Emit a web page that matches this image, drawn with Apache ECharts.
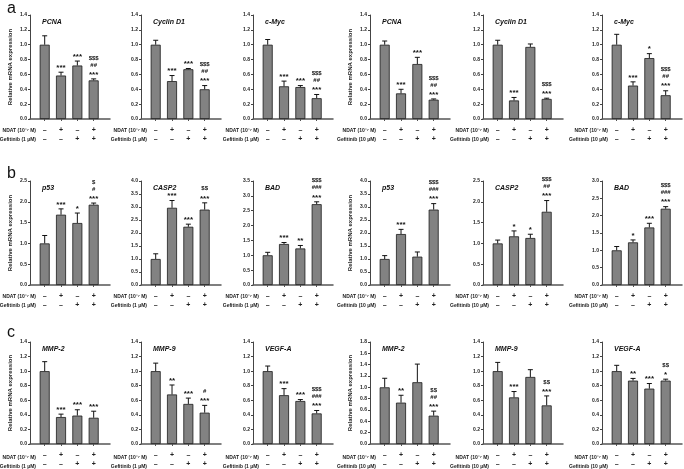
<!DOCTYPE html>
<html><head><meta charset="utf-8">
<script src="https://cdn.jsdelivr.net/npm/echarts@6/dist/echarts.min.js"></script>
<style>html,body{margin:0;padding:0;background:#fff}#c{width:684px;height:469px}</style>
</head><body><div id="c"></div>
<script>
// ---------- data ----------
const panelLetters = ['a', 'b', 'c'];
const genesA = ['PCNA', 'Cyclin D1', 'c-Myc', 'PCNA', 'Cyclin D1', 'c-Myc'];
const genesB = ['p53', 'CASP2', 'BAD', 'p53', 'CASP2', 'BAD'];
const genesC = ['MMP-2', 'MMP-9', 'VEGF-A', 'MMP-2', 'MMP-9', 'VEGF-A'];
const gefDoses = ['1 µM', '1 µM', '1 µM', '10 µM', '10 µM', '10 µM'];
const ndatSigns = ['–', '+', '–', '+'];
const gefSigns = ['–', '–', '+', '+'];

const yMaxA = [1.4, 1.4, 1.4, 1.4, 1.4, 1.4];
const yStepA = [0.2, 0.2, 0.2, 0.2, 0.2, 0.2];
const yMaxB = [2.5, 4.0, 3.5, 4.0, 2.5, 3.0];
const yStepB = [0.5, 0.5, 0.5, 0.5, 0.5, 0.5];
const yMaxC = [1.4, 1.4, 1.4, 1.8, 1.4, 1.4];
const yStepC = [0.2, 0.2, 0.2, 0.2, 0.2, 0.2];

const meansA = [
  [1.0, 0.585, 0.72, 0.52],
  [1.0, 0.51, 0.67, 0.40],
  [1.0, 0.44, 0.43, 0.28],
  [1.0, 0.345, 0.74, 0.26],
  [1.0, 0.25, 0.97, 0.27],
  [1.0, 0.45, 0.82, 0.32]
];
const errA = [
  [0.12, 0.045, 0.06, 0.02],
  [0.06, 0.075, 0.01, 0.05],
  [0.07, 0.07, 0.02, 0.05],
  [0.05, 0.055, 0.09, 0.01],
  [0.06, 0.04, 0.04, 0.01],
  [0.14, 0.05, 0.06, 0.06]
];
const meansB = [
  [1.0, 1.69, 1.49, 1.93],
  [1.0, 2.97, 2.24, 2.90],
  [1.0, 1.38, 1.23, 2.72],
  [1.0, 1.96, 1.09, 2.90],
  [1.0, 1.17, 1.13, 1.76],
  [1.0, 1.23, 1.66, 2.20]
];
const errB = [
  [0.19, 0.14, 0.24, 0.04],
  [0.20, 0.28, 0.10, 0.26],
  [0.10, 0.05, 0.10, 0.08],
  [0.13, 0.18, 0.18, 0.23],
  [0.08, 0.13, 0.09, 0.27],
  [0.11, 0.07, 0.12, 0.06]
];
const meansC = [
  [1.0, 0.37, 0.39, 0.36],
  [1.0, 0.68, 0.55, 0.43],
  [1.0, 0.67, 0.59, 0.42],
  [1.0, 0.73, 1.09, 0.50],
  [1.0, 0.64, 0.92, 0.53],
  [1.0, 0.87, 0.76, 0.87]
];
const errC = [
  [0.13, 0.04, 0.08, 0.09],
  [0.11, 0.13, 0.08, 0.10],
  [0.07, 0.09, 0.02, 0.04],
  [0.16, 0.13, 0.32, 0.08],
  [0.12, 0.08, 0.10, 0.13],
  [0.08, 0.03, 0.07, 0.02]
];
// significance marks, listed top line first
const marksA = [
  [[], ['***'], ['***'], ['$$$', '##', '***']],
  [[], ['***'], ['***'], ['$$$', '##', '***']],
  [[], ['***'], ['***'], ['$$$', '##', '***']],
  [[], ['***'], ['***'], ['$$$', '##', '***']],
  [[], ['***'], [], ['$$$', '***']],
  [[], ['***'], ['*'], ['$$$', '##', '***']]
];
const marksB = [
  [[], ['***'], ['*'], ['$', '#', '***']],
  [[], ['***'], ['***'], ['$$', '***']],
  [[], ['***'], ['**'], ['$$$', '###', '***']],
  [[], ['***'], [], ['$$$', '###', '***']],
  [[], ['*'], ['*'], ['$$$', '##', '***']],
  [[], ['*'], ['***'], ['$$$', '###', '***']]
];
const marksC = [
  [[], ['***'], ['***'], ['***']],
  [[], ['**'], ['***'], ['#', '***']],
  [[], ['***'], ['***'], ['$$$', '###', '***']],
  [[], ['**'], [], ['$$', '##', '***']],
  [[], ['***'], [], ['$$', '***']],
  [[], ['**'], ['***'], ['$$', '*']]
];

// ---------- layout ----------
const FONT = "'Liberation Sans', Arial, sans-serif";
const rowTops = [15, 181, 342];
const colLefts = [30, 141, 253, 370, 483, 602];
const plotW = 80, plotH = 104;

const rows = [
  {genes: genesA, yMax: yMaxA, yStep: yStepA, means: meansA, errs: errA, marks: marksA},
  {genes: genesB, yMax: yMaxB, yStep: yStepB, means: meansB, errs: errB, marks: marksB},
  {genes: genesC, yMax: yMaxC, yStep: yStepC, means: meansC, errs: errC, marks: marksC}
];

const grid = [], xAxis = [], yAxis = [], series = [], title = [], graphic = [];

rows.forEach((row, r) => {
  title.push({text: panelLetters[r], left: 2, top: rowTops[r] - (r === 0 ? 19 : (r === 1 ? 20 : 22)),
    textStyle: {fontFamily: FONT, fontSize: 16, fontWeight: 'normal', color: '#111'}});
  for (let c = 0; c < 6; c++) {
    const k = r * 6 + c;
    const left = colLefts[c], top = rowTops[r];
    grid.push({left: left, top: top, width: plotW, height: plotH, containLabel: false});
    xAxis.push({
      gridIndex: k, type: 'value', min: 0.1, max: 5,
      axisLine: {show: true, onZero: false, lineStyle: {color: '#555', width: 1.5}},
      axisTick: {show: true, customValues: [1, 2, 3, 4], length: 2, lineStyle: {color: '#555'}},
      axisLabel: {show: true, customValues: [1, 2, 3, 4],
        formatter: v => ndatSigns[Math.round(v) - 1] + '\n' + gefSigns[Math.round(v) - 1],
        fontFamily: FONT, fontSize: 7, fontWeight: 'bold', lineHeight: 9, margin: 7, color: '#222'},
      splitLine: {show: false}
    });
    yAxis.push({
      gridIndex: k, type: 'value', min: 0, max: row.yMax[c], interval: row.yStep[c],
      axisLine: {show: true, lineStyle: {color: '#444'}},
      axisTick: {show: true, length: 2, lineStyle: {color: '#444'}},
      axisLabel: {fontFamily: FONT, fontSize: 5, fontWeight: 'bold', color: '#222', margin: 3,
        formatter: v => v.toFixed(1)},
      splitLine: {show: false},
      name: (c % 3 === 0) ? 'Relative mRNA expression' : '',
      nameLocation: 'middle', nameGap: 17,
      nameTextStyle: {fontFamily: FONT, fontSize: 6, fontWeight: 'bold', color: '#222'}
    });
    const means = row.means[c], errs = row.errs[c], marks = row.marks[c];
    series.push({
      type: 'bar', xAxisIndex: k, yAxisIndex: k, barWidth: 10, silent: true,
      data: means.map((v, i) => [i + 1, v]),
      itemStyle: {color: '#828282', borderColor: '#1a1a1a', borderWidth: 0.8}
    });
    series.push({
      type: 'custom', xAxisIndex: k, yAxisIndex: k, silent: true, z: 5,
      data: means.map((v, i) => [i + 1, v, errs[i]]),
      renderItem: (params, api) => {
        const x = api.value(0), m = api.value(1), e = api.value(2);
        const p0 = api.coord([x, m]);
        const p1 = api.coord([x, m + e]);
        const children = [
          {type: 'line', shape: {x1: p0[0], y1: p0[1], x2: p1[0], y2: p1[1]}, style: {stroke: '#111', lineWidth: 1}},
          {type: 'line', shape: {x1: p1[0] - 2.5, y1: p1[1], x2: p1[0] + 2.5, y2: p1[1]}, style: {stroke: '#111', lineWidth: 1}}
        ];
        const lines = marks[params.dataIndex];
        const n = lines.length;
        lines.forEach((t, j) => {
          const fromBottom = n - 1 - j;
          const isStar = t[0] === '*';
          const cy = p1[1] - 7 - fromBottom * 7;
          children.push({type: 'text', style: {
            text: t, x: p1[0], y: isStar ? cy + 2.5 : cy, align: 'center', verticalAlign: 'middle',
            font: 'bold ' + (isStar ? 8 : 6) + 'px ' + FONT, fill: '#111'}});
        });
        return {type: 'group', children: children};
      }
    });
    title.push({text: row.genes[c], left: left + 7, top: top - 1,
      textStyle: {fontFamily: FONT, fontSize: 7, fontWeight: 'bold', fontStyle: 'italic', color: '#111'}});
    graphic.push({type: 'text', left: null, x: left + 6, y: top + plotH + 12,
      style: {text: 'NDAT (10⁻⁷ M)', align: 'right', verticalAlign: 'middle',
        font: 'bold 5px ' + FONT, fill: '#222'}});
    graphic.push({type: 'text', x: left + 6, y: top + plotH + 21,
      style: {text: 'Gefitinib (' + gefDoses[c] + ')', align: 'right', verticalAlign: 'middle',
        font: 'bold 5px ' + FONT, fill: '#222'}});
  }
});

const chart = echarts.init(document.getElementById('c'), null, {renderer: 'canvas'});
chart.setOption({animation: false, backgroundColor: '#fff', title, grid, xAxis, yAxis, series, graphic});
</script>
</body></html>
